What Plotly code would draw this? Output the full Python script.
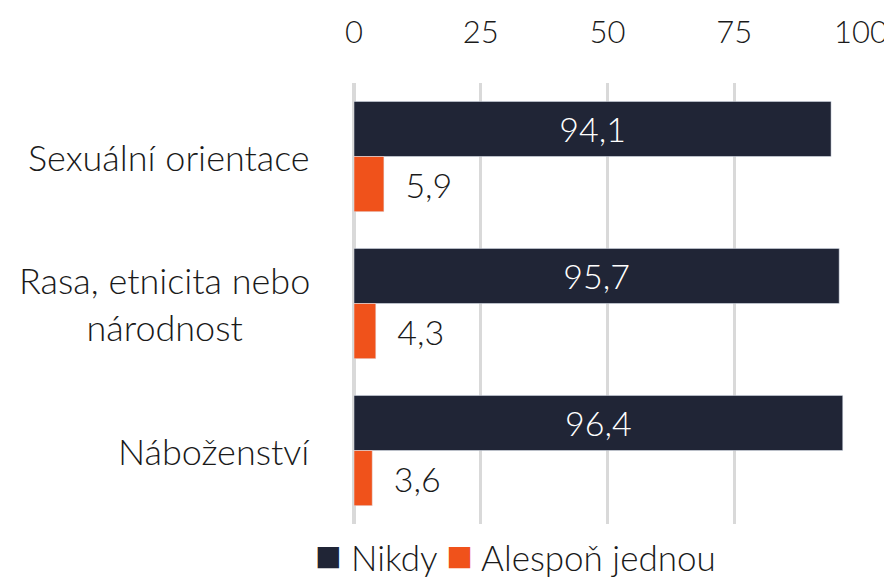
import plotly.graph_objects as go

categories = ["Sexuální orientace", "Rasa, etnicita nebo<br>národnost", "Náboženství"]
nikdy = [94.1, 95.7, 96.4]
alespon = [5.9, 4.3, 3.6]
x_ticks = [0, 25, 50, 75, 100]

FONT = "Lato, Open Sans, sans-serif"
DARK = "#202536"
ORANGE = "#F0521B"
TXT = "#1a1a1a"
SIZE = 34

fig = go.Figure()

fig.add_trace(go.Bar(
    y=categories, x=nikdy, orientation="h", name="Nikdy",
    marker=dict(color=DARK),
    texttemplate="%{x:.1f}", textposition="inside", insidetextanchor="middle",
    textfont=dict(color="white", size=SIZE, family=FONT, weight=300),
))
fig.add_trace(go.Bar(
    y=categories, x=alespon, orientation="h", name="Alespoň jednou",
    marker=dict(color=ORANGE),
    texttemplate="  %{x:.1f}", textposition="outside",
    textfont=dict(color=TXT, size=SIZE, family=FONT, weight=300),
    cliponaxis=False,
))

# category labels centred on each line (multi-line label is centre-aligned)
for c in categories:
    fig.add_annotation(x=-0.083, xref="paper", y=c, yref="y", text=c,
                       showarrow=False, xanchor="right", align="center",
                       font=dict(size=36, family=FONT, weight=300, color=TXT))

# legend with large square keys
fig.add_annotation(
    x=0.318, xref="paper", y=-0.068, yref="paper", showarrow=False,
    xanchor="center", yanchor="middle",
    text=(f"<span style='color:{DARK};font-size:44px'>■</span> Nikdy "
          f"<span style='color:{ORANGE};font-size:44px'>■</span> Alespoň jednou"),
    font=dict(size=35, family=FONT, weight=300, color=TXT))

fig.update_layout(
    width=884, height=571,
    margin=dict(l=346, r=31, t=75, b=55, autoexpand=False),
    barmode="group", bargap=0.25, bargroupgap=0,
    separators=", ",
    plot_bgcolor="white", paper_bgcolor="white",
    font=dict(family=FONT, size=SIZE, color=TXT, weight=300),
    showlegend=False,
)
fig.update_xaxes(side="top", range=[0, 100], tickvals=x_ticks,
                 showgrid=True, gridcolor="#D9D9D9", gridwidth=3,
                 zeroline=True, zerolinecolor="#D9D9D9", zerolinewidth=4,
                 showline=False, ticks="", ticklabelstandoff=33,
                 tickfont=dict(size=31, family=FONT, weight=300))
fig.update_yaxes(autorange="reversed", showticklabels=False, showgrid=False,
                 zeroline=False, showline=False, ticks="")

fig.write_html("out.html")
